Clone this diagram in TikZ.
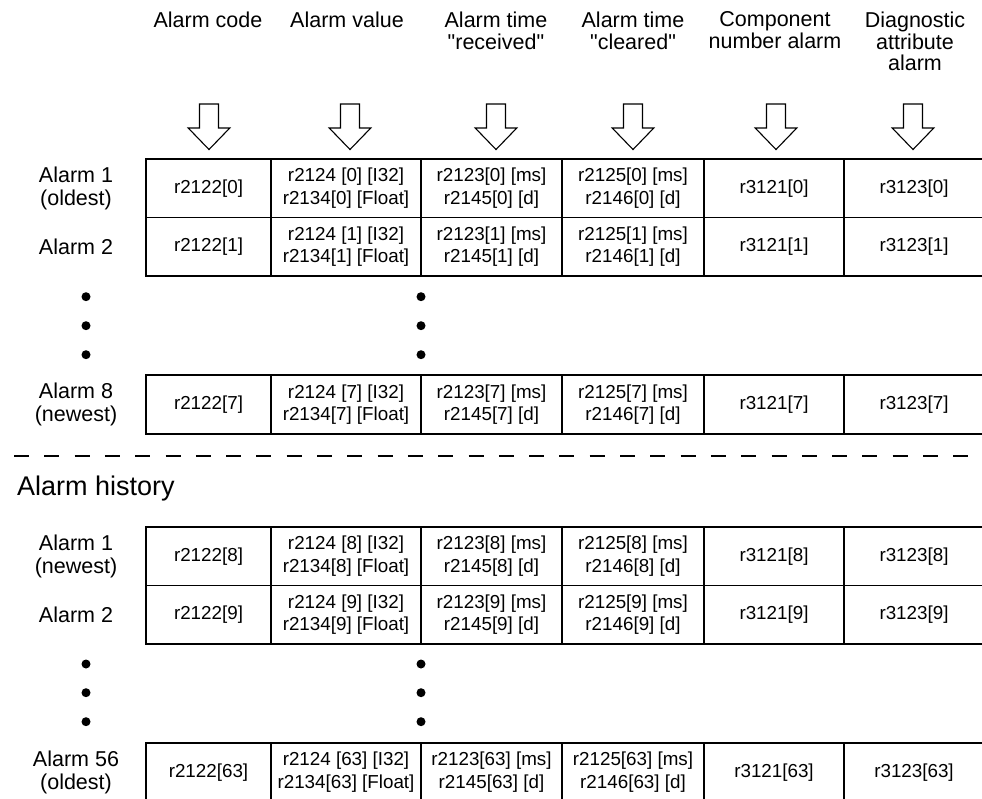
\documentclass[tikz,border=0pt]{standalone}
\usepackage{fontspec}
\setmainfont{Liberation Sans}
\newcommand\cellfont{\fontsize{18.8}{22.6}\selectfont}
\newcommand\headfont{\fontsize{21.5}{21.8}\selectfont}
\newcommand\labfont{\fontsize{21.5}{23}\selectfont}
\newcommand\histfont{\fontsize{27}{30}\selectfont}
\newcommand\sq{\textquotedbl}
\tikzset{
  cellbox/.style={draw, line width=1.8pt, minimum height=58.5pt, inner sep=0pt, align=center, font=\cellfont},
  headtext/.style={anchor=north, inner sep=0pt, align=center, font=\headfont},
  rowlab/.style={inner sep=0pt, align=center, font=\labfont},
  blockarrow/.style={draw, line width=1.1pt, line join=miter},
  dotmark/.style={fill=black},
  sepline/.style={line width=1.8pt, dash pattern=on 15pt off 15.3pt}
}
\newcommand\alarmrow[8]{%
  \node[cellbox, minimum width=125pt] (#1-1) at (208.5,#2) {#3};
  \node[cellbox, minimum width=150pt] (#1-2) at (346,#2) {#4};
  \node[cellbox, minimum width=141pt] (#1-3) at (491.5,#2) {#5};
  \node[cellbox, minimum width=142pt] (#1-4) at (633,#2) {#6};
  \node[cellbox, minimum width=140pt] (#1-5) at (774,#2) {#7};
  \node[cellbox, minimum width=140pt] (#1-6) at (914,#2) {#8};
}
\newcommand\colarrow[1]{%
  \draw[blockarrow] (#1-9.5,104) -- (#1+9.5,104) -- (#1+9.5,128) -- (#1+20.8,128)
    -- (#1,149.5) -- (#1-20.8,128) -- (#1-9.5,128) -- cycle;
}
\begin{document}
\begin{tikzpicture}[x=1pt,y=-1pt]
\useasboundingbox (0,0) rectangle (982,799);

% headers
\node[headtext] (h1) at (208,11.5) {Alarm code};
\node[headtext] (h2) at (347,11.5) {Alarm value};
\node[headtext] (h3) at (496,11.5) {Alarm time\\\sq received\sq};
\node[headtext] (h4) at (633,11.5) {Alarm time\\\sq cleared\sq};
\node[headtext] (h5) at (775,11.5) {Component\\number alarm};
\node[headtext] (h6) at (915,11.5) {Diagnostic\\attribute\\alarm};

% block arrows
\colarrow{209}
\colarrow{350}
\colarrow{496}
\colarrow{633}
\colarrow{776}
\colarrow{913}

% current alarms
\alarmrow{ua}{188.25}{r2122[0]}{r2124 [0] [I32]\\r2134[0] [Float]}{r2123[0] [ms]\\r2145[0] [d]}{r2125[0] [ms]\\r2146[0] [d]}{r3121[0]}{r3123[0]}
\alarmrow{ub}{246.75}{r2122[1]}{r2124 [1] [I32]\\r2134[1] [Float]}{r2123[1] [ms]\\r2145[1] [d]}{r2125[1] [ms]\\r2146[1] [d]}{r3121[1]}{r3123[1]}
\alarmrow{uc}{404.5}{r2122[7]}{r2124 [7] [I32]\\r2134[7] [Float]}{r2123[7] [ms]\\r2145[7] [d]}{r2125[7] [ms]\\r2146[7] [d]}{r3121[7]}{r3123[7]}

\node[rowlab] (la) at (76,188.25) {Alarm 1\\(oldest)};
\node[rowlab] (lb) at (76,246.75) {Alarm 2};
\node[rowlab] (lc) at (76,404.5) {Alarm 8\\(newest)};

\foreach \yy in {296.7,325.7,354.7} {
  \fill[dotmark] (86,\yy) circle (4.5pt);
  \fill[dotmark] (421,\yy) circle (4.5pt);
}

% separator
\coordinate (sepL) at (14,456);
\coordinate (sepR) at (968,456);
\draw[sepline] (sepL) -- (sepR);

\node[anchor=base west, inner sep=0pt, font=\histfont] (hist) at (17,495) {Alarm history};

% alarm history
\alarmrow{la}{556.25}{r2122[8]}{r2124 [8] [I32]\\r2134[8] [Float]}{r2123[8] [ms]\\r2145[8] [d]}{r2125[8] [ms]\\r2146[8] [d]}{r3121[8]}{r3123[8]}
\alarmrow{lb}{614.75}{r2122[9]}{r2124 [9] [I32]\\r2134[9] [Float]}{r2123[9] [ms]\\r2145[9] [d]}{r2125[9] [ms]\\r2146[9] [d]}{r3121[9]}{r3123[9]}
\alarmrow{lc}{772.25}{r2122[63]}{r2124 [63] [I32]\\r2134[63] [Float]}{r2123[63] [ms]\\r2145[63] [d]}{r2125[63] [ms]\\r2146[63] [d]}{r3121[63]}{r3123[63]}

\node[rowlab] (ld) at (76,556.25) {Alarm 1\\(newest)};
\node[rowlab] (le) at (76,614.75) {Alarm 2};
\node[rowlab] (lf) at (76,772.25) {Alarm 56\\(oldest)};

\foreach \yy in {664,692.7,721.7} {
  \fill[dotmark] (86,\yy) circle (4.5pt);
  \fill[dotmark] (421,\yy) circle (4.5pt);
}
\end{tikzpicture}
\end{document}
